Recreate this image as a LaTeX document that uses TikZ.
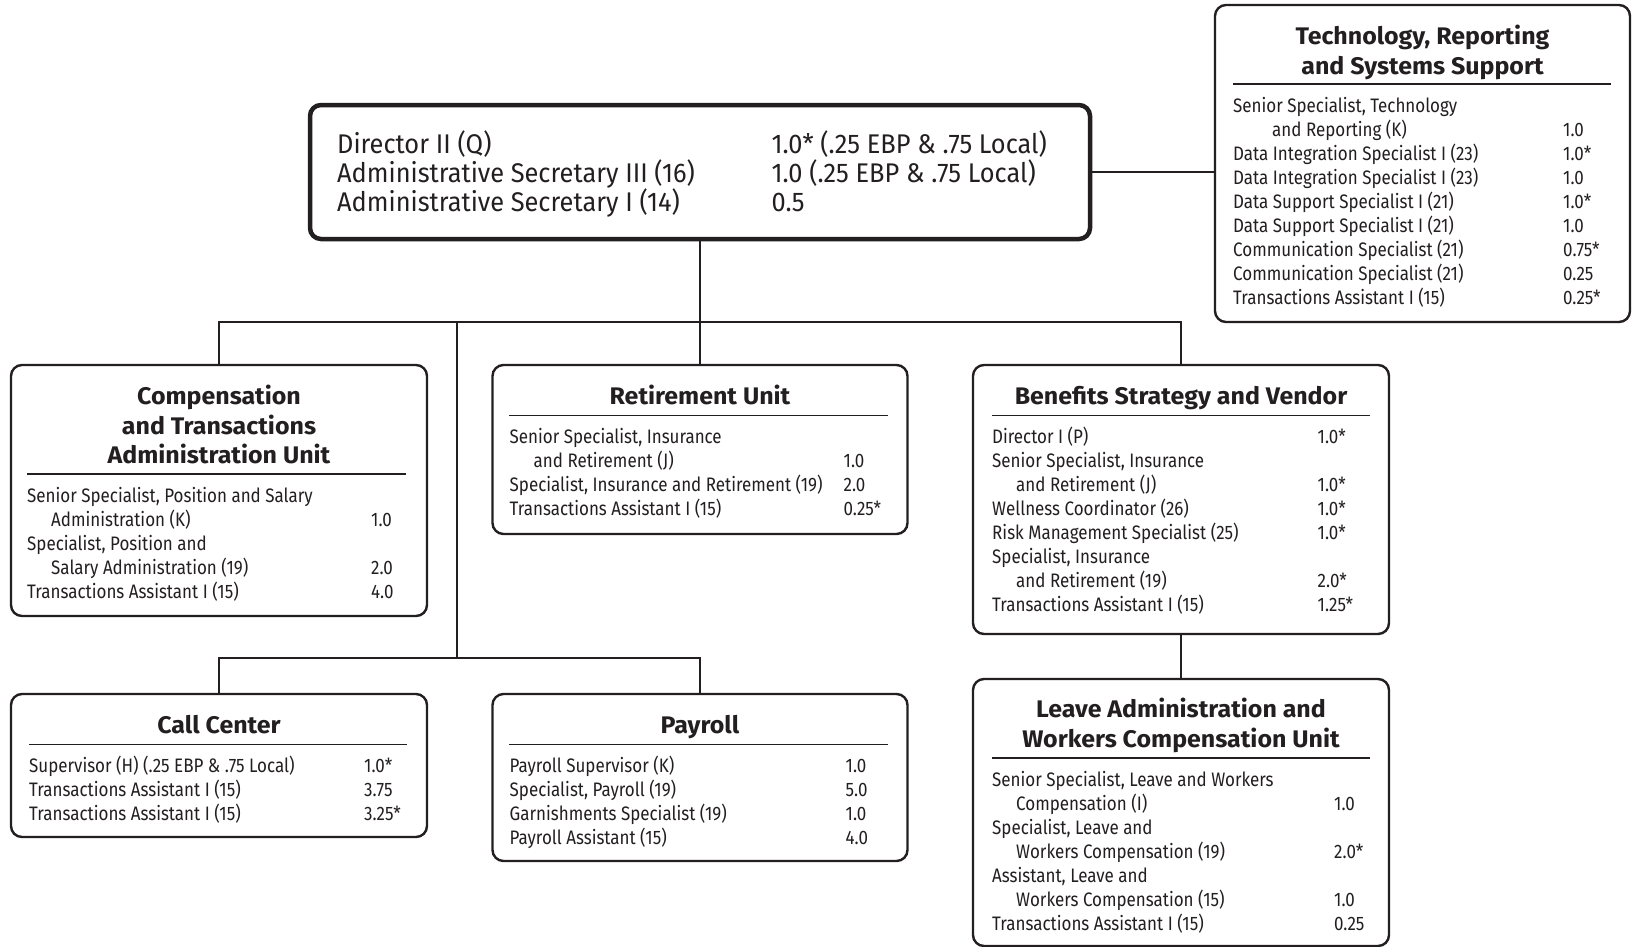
\documentclass[tikz,border=0pt]{standalone}
\usepackage{fontspec}
\usepackage{array}
\setmainfont{Fira Sans}
\newfontfamily\itemf{Fira Sans}[FakeStretch=0.87]
\newfontfamily\dirf{Fira Sans}[FakeStretch=0.94]
\newfontfamily\titlef{Fira Sans}[FakeStretch=1.04]
\newcommand\ind{\hspace*{24pt}}
\newcommand\joblist[2]{\begin{tabular}[t]{@{}p{#1}@{}l@{}}#2\end{tabular}}
\newcommand\ttltab[1]{\begin{tabular}[t]{@{}c@{}}#1\end{tabular}}
\definecolor{ink}{HTML}{231F20}
\begin{document}
\begin{tikzpicture}[x=1pt,y=-1pt,
  box/.style={draw=ink, line width=2.4pt, rounded corners=11pt, inner sep=0pt, fill=white},
  bigbox/.style={box, line width=4.5pt},
  conn/.style={draw=ink, line width=2pt},
  sep/.style={draw=ink, line width=1.1pt},
  lst/.style={anchor=base west, inner sep=0pt, text=ink, font=\itemf\fontsize{19.5}{24}\selectfont},
  dirlst/.style={anchor=base west, inner sep=0pt, text=ink, font=\dirf\fontsize{27}{21.3}\selectfont},
  ttl/.style={anchor=base, inner sep=0pt, text=ink, font=\titlef\bfseries\fontsize{24}{29.5}\selectfont}]
\useasboundingbox (0,0) rectangle (1637,946);

% boxes
\node[bigbox, minimum width=780pt, minimum height=134pt] (dir) at (700,172) {};
\node[box, minimum width=415pt, minimum height=317pt] (tech) at (1422.5,163.5) {};
\node[box, minimum width=416pt, minimum height=251pt] (comp) at (219,490.5) {};
\node[box, minimum width=415pt, minimum height=169pt] (ret) at (700,449.5) {};
\node[box, minimum width=416pt, minimum height=269pt] (ben) at (1181,499.5) {};
\node[box, minimum width=416pt, minimum height=143pt] (call) at (219,765.5) {};
\node[box, minimum width=415pt, minimum height=167pt] (pay) at (700,777.5) {};
\node[box, minimum width=416pt, minimum height=267pt] (leave) at (1181,812.5) {};

% connectors
\coordinate (bus) at (700,322);
\coordinate (split) at (457,322);
\coordinate (low) at (457,658);
\draw[conn] (dir.east) -- (dir.east -| tech.west);
\draw[conn] (dir.south) -- (bus);
\draw[conn] (comp.north) |- (bus) -| (ben.north);
\draw[conn] (bus) -- (ret.north);
\draw[conn] (split) -- (low);
\draw[conn] (call.north) |- (low) -| (pay.north);
\draw[conn] (ben.south) -- (leave.north);

% director
\node[dirlst] (dirtxt) at (337,153) {\joblist{434.5pt}{%
Director II (Q) & 1.0* (.25 EBP \& .75 Local)\\
Administrative Secretary III (16) & 1.0 (.25 EBP \& .75 Local)\\
Administrative Secretary I (14) & 0.5}};

% technology
\node[ttl] (techttl) at (1422.5,44.5) {\ttltab{Technology, Reporting\\and Systems Support}};
\draw[sep] (1233,84) -- (1611,84);
\node[lst] (techtxt) at (1233,112) {\joblist{330pt}{%
Senior Specialist, Technology & \\
\hspace*{39pt}and Reporting (K) & 1.0\\
Data Integration Specialist I (23) & 1.0*\\
Data Integration Specialist I (23) & 1.0\\
Data Support Specialist I (21) & 1.0*\\
Data Support Specialist I (21) & 1.0\\
Communication Specialist (21) & 0.75*\\
Communication Specialist (21) & 0.25\\
Transactions Assistant I (15) & 0.25*}};

% compensation
\node[ttl] (compttl) at (219,404.5) {\ttltab{Compensation\\and Transactions\\Administration Unit}};
\draw[sep] (27,474) -- (406,474);
\node[lst] (comptxt) at (27,502) {\joblist{344pt}{%
Senior Specialist, Position and Salary & \\
\ind Administration (K) & 1.0\\
Specialist, Position and & \\
\ind Salary Administration (19) & 2.0\\
Transactions Assistant I (15) & 4.0}};

% retirement
\node[ttl] (retttl) at (700,404.5) {\ttltab{Retirement Unit}};
\draw[sep] (509,415.5) -- (888,415.5);
\node[lst] (rettxt) at (509.5,443.5) {\joblist{334pt}{%
Senior Specialist, Insurance & \\
\ind and Retirement (J) & 1.0\\
Specialist, Insurance and Retirement (19) & 2.0\\
Transactions Assistant I (15) & 0.25*}};

% benefits
\node[ttl] (benttl) at (1181,404.5) {\ttltab{Benefits Strategy and Vendor}};
\draw[sep] (992,415.5) -- (1370,415.5);
\node[lst] (bentxt) at (992,443.5) {\joblist{325.5pt}{%
Director I (P) & 1.0*\\
Senior Specialist, Insurance & \\
\ind and Retirement (J) & 1.0*\\
Wellness Coordinator (26) & 1.0*\\
Risk Management Specialist (25) & 1.0*\\
Specialist, Insurance & \\
\ind and Retirement (19) & 2.0*\\
Transactions Assistant I (15) & 1.25*}};

% leave
\node[ttl] (leavettl) at (1181,717.5) {\ttltab{Leave Administration and\\Workers Compensation Unit}};
\draw[sep] (992,758) -- (1370,758);
\node[lst] (leavetxt) at (992,786) {\joblist{342pt}{%
Senior Specialist, Leave and Workers & \\
\ind Compensation (I) & 1.0\\
Specialist, Leave and & \\
\ind Workers Compensation (19) & 2.0*\\
Assistant, Leave and & \\
\ind Workers Compensation (15) & 1.0\\
Transactions Assistant I (15) & 0.25}};

% call center
\node[ttl] (callttl) at (219,733) {\ttltab{Call Center}};
\draw[sep] (29,744.4) -- (407,744.4);
\node[lst] (calltxt) at (29,772) {\joblist{335pt}{%
Supervisor (H) (.25 EBP \& .75 Local) & 1.0*\\
Transactions Assistant I (15) & 3.75\\
Transactions Assistant I (15) & 3.25*}};

% payroll
\node[ttl] (payttl) at (700,733) {\ttltab{Payroll}};
\draw[sep] (509,744.4) -- (888,744.4);
\node[lst] (paytxt) at (509.5,772) {\joblist{336pt}{%
Payroll Supervisor (K) & 1.0\\
Specialist, Payroll (19) & 5.0\\
Garnishments Specialist (19) & 1.0\\
Payroll Assistant (15) & 4.0}};
\end{tikzpicture}
\end{document}
